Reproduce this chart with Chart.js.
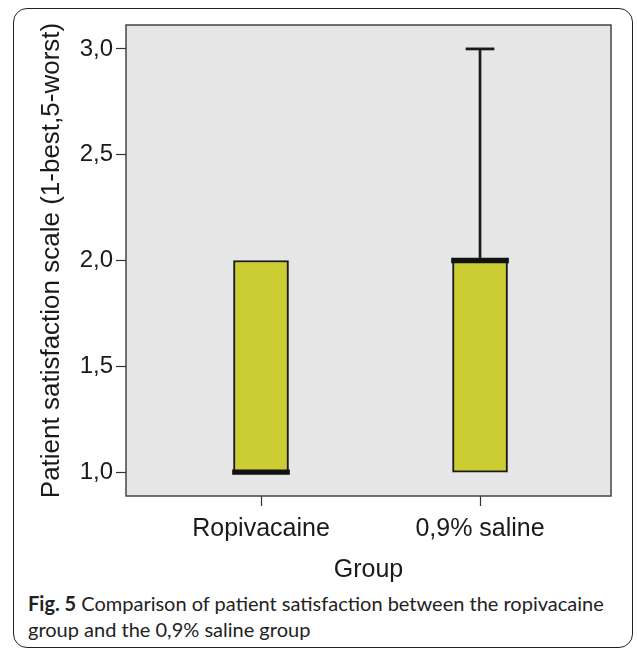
<!DOCTYPE html>
<html>
<head>
<meta charset="utf-8">
<script src="https://cdn.jsdelivr.net/npm/chart.js@4.4.0/dist/chart.umd.min.js"></script>
<style>
  body { margin: 0; background: #fff; }
  #wrap { position: relative; width: 637px; height: 649px; overflow: hidden; }
  #frame { position: absolute; left: 13px; top: 8px; width: 620px; height: 640px;
           border: 1.5px solid #222; border-radius: 14px; box-sizing: border-box; }
  #myChart { position: absolute; left: 0; top: 0; }
  #caption { position: absolute; left: 28px; top: 590px; white-space: nowrap;
             font-family: Lato, "Open Sans", sans-serif; font-size: 20px; line-height: 26px; color: #222; }
  #caption b { font-weight: 700; }
</style>
</head>
<body>
<div id="wrap">
  <div id="frame"></div>
  <canvas id="myChart" width="637" height="585"></canvas>
  <div id="caption"><b>Fig. 5</b> Comparison of patient satisfaction between the ropivacaine<br>group and the 0,9% saline group</div>
</div>
<script>
// box plot values
var groups = ['Ropivacaine', '0,9% saline'];
var minVals = [1, 1];
var q1Vals = [1, 1];
var medianVals = [1, 2];
var q3Vals = [2, 2];
var maxVals = [2, 3];
var yTicks = [1.0, 1.5, 2.0, 2.5, 3.0];

var axisFont = 'Liberation Sans, Arial, sans-serif';
var textColor = '#1a1a1a';
var medHalf = 0.011;
var capHalf = 0.005;

var xs = groups.map(function(g, i) { return i + 1; });

var boxData = [], medData = [], whiskerData = [], capData = [];
for (var i = 0; i < groups.length; i++) {
  boxData.push({x: xs[i], y: [q1Vals[i], q3Vals[i]]});
  medData.push({x: xs[i], y: [medianVals[i] - medHalf, medianVals[i] + medHalf]});
  if (maxVals[i] > q3Vals[i]) {
    whiskerData.push({x: xs[i], y: [q3Vals[i], maxVals[i]]});
    capData.push({x: xs[i], y: [maxVals[i] - capHalf, maxVals[i] + capHalf]});
  }
  if (minVals[i] < q1Vals[i]) {
    whiskerData.push({x: xs[i], y: [minVals[i], q1Vals[i]]});
    capData.push({x: xs[i], y: [minVals[i] - capHalf, minVals[i] + capHalf]});
  }
}

var plotBg = {
  id: 'plotBg',
  beforeDatasetsDraw: function(chart) {
    var a = chart.chartArea, ctx = chart.ctx;
    ctx.save();
    ctx.fillStyle = '#e6e6e6';
    ctx.fillRect(a.left, a.top, a.right - a.left, a.bottom - a.top);
    ctx.strokeStyle = '#444';
    ctx.lineWidth = 1.5;
    ctx.strokeRect(a.left, a.top, a.right - a.left, a.bottom - a.top);
    ctx.restore();
  }
};

var ctx = document.getElementById('myChart').getContext('2d');
var chart = new Chart(ctx, {
  type: 'bar',
  data: {
    datasets: [
      { data: whiskerData, backgroundColor: '#1a1a1a', barThickness: 2, grouped: false, order: 4 },
      { data: capData, backgroundColor: '#1a1a1a', barThickness: 28, grouped: false, order: 3 },
      { data: boxData, backgroundColor: '#cccc33', borderColor: '#1a1a1a', borderWidth: 2,
        borderSkipped: false, barThickness: 55, grouped: false, order: 2 },
      { data: medData, backgroundColor: '#111', barThickness: 57, grouped: false, order: 1 }
    ]
  },
  options: {
    responsive: false,
    animation: false,
    layout: { padding: { left: 0, right: 26, top: 25, bottom: 0 } },
    plugins: { legend: { display: false }, tooltip: { enabled: false } },
    scales: {
      x: {
        type: 'linear',
        offset: false,
        min: 0.3836,
        max: 2.598,
        afterBuildTicks: function(s) { s.ticks = xs.map(function(v) { return {value: v}; }); },
        afterFit: function(s) { s.height = 89; },
        grid: { offset: false, drawOnChartArea: false, drawTicks: true, tickLength: 10, color: '#333', tickWidth: 1.2 },
        border: { display: false },
        ticks: {
          color: textColor, padding: 8, maxRotation: 0, autoSkip: false,
          font: { family: axisFont, size: 25 },
          callback: function(v) { return groups[v - 1]; }
        },
        title: { display: true, text: 'Group', color: textColor, padding: { top: 3, bottom: 0 },
                 font: { family: axisFont, size: 25 } }
      },
      y: {
        min: 0.887,
        max: 3.113,
        afterBuildTicks: function(s) { s.ticks = yTicks.map(function(v) { return {value: v}; }); },
        afterFit: function(s) { s.width = 126; },
        grid: { drawOnChartArea: false, drawTicks: true, tickLength: 10, color: '#333', tickWidth: 1.2 },
        border: { display: false },
        ticks: {
          color: textColor, padding: 3,
          font: { family: axisFont, size: 24 },
          callback: function(v) { return v.toFixed(1).replace('.', ','); }
        },
        title: { display: true, text: 'Patient satisfaction scale (1-best,5-worst)', color: textColor,
                 padding: { top: 36, bottom: 0 }, font: { family: axisFont, size: 26 } }
      }
    }
  },
  plugins: [plotBg]
});
</script>
</body>
</html>
